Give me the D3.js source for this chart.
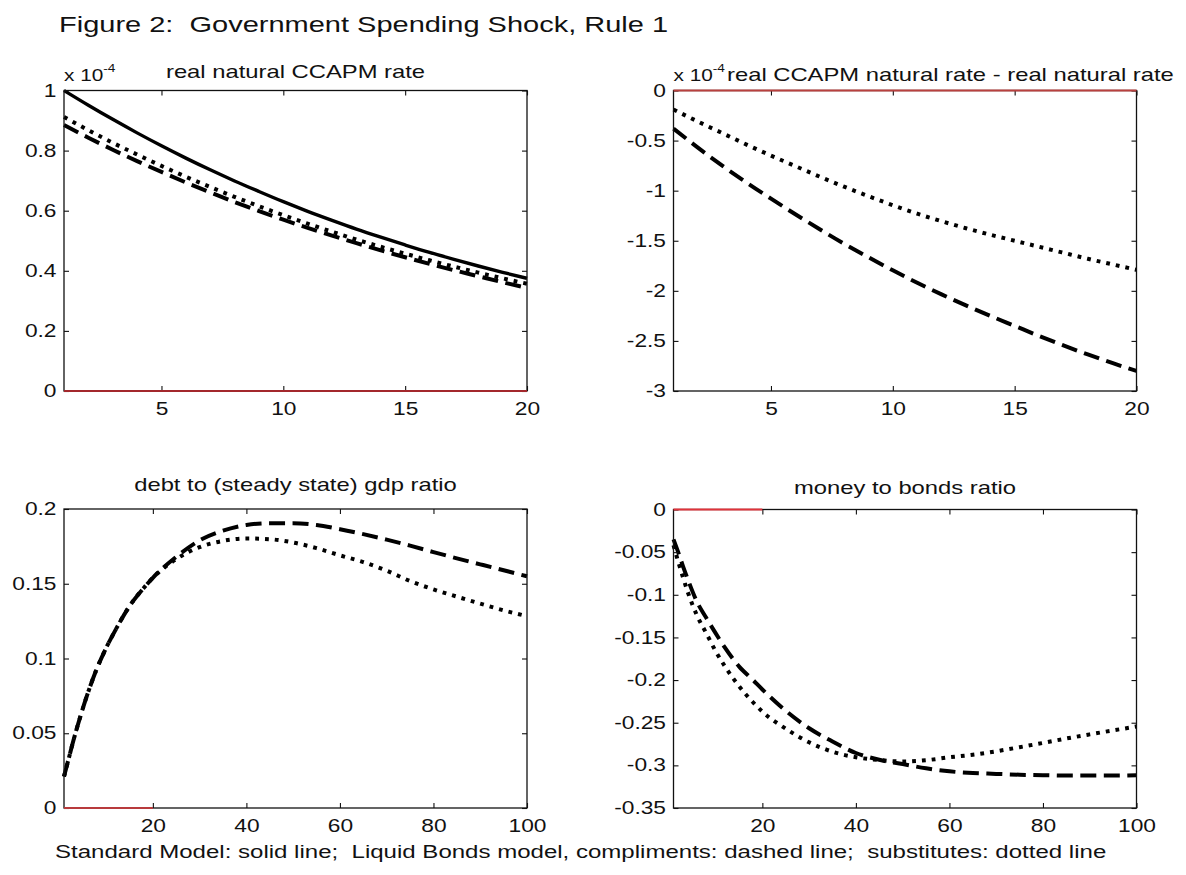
<!DOCTYPE html>
<html>
<head>
<meta charset="utf-8">
<script src="https://cdn.jsdelivr.net/npm/d3@7"></script>
<style>
  body { margin: 0; background: #fff; }
  text { font-family: "Liberation Sans", Arial, Helvetica, sans-serif; fill: #111; white-space: pre; }
</style>
</head>
<body>
<svg id="fig" width="1186" height="875"></svg>
<script>
// ---- periods ----
const periodsShort = [1, 2, 3, 4, 5, 6, 7, 8, 9, 10, 11, 12, 13, 14, 15, 16, 17, 18, 19, 20];
const periodsLong = [1, 2, 3, 4, 6, 8, 10, 12, 15, 18, 20, 25, 30, 35, 40, 45, 50, 55, 60, 65, 70, 75, 80, 85, 90, 95, 100];

// ---- real natural CCAPM rate (x 1e-4) ----
const ccapmStandard   = [1.000, 0.951, 0.904, 0.859, 0.816, 0.775, 0.736, 0.699, 0.664, 0.630, 0.598, 0.568, 0.539, 0.512, 0.486, 0.461, 0.438, 0.416, 0.395, 0.375];
const ccapmComplement = [0.885, 0.843, 0.803, 0.765, 0.729, 0.694, 0.661, 0.629, 0.599, 0.570, 0.543, 0.517, 0.492, 0.468, 0.445, 0.423, 0.402, 0.382, 0.362, 0.343];
const ccapmSubstitute = [0.912, 0.868, 0.826, 0.787, 0.749, 0.713, 0.679, 0.646, 0.615, 0.585, 0.557, 0.530, 0.504, 0.480, 0.457, 0.435, 0.414, 0.394, 0.375, 0.357];

// ---- real CCAPM natural rate - real natural rate (x 1e-4) ----
const gapComplement = [-0.38, -0.57, -0.75, -0.92, -1.08, -1.235, -1.385, -1.53, -1.665, -1.795, -1.92, -2.035, -2.145, -2.25, -2.35, -2.45, -2.545, -2.635, -2.72, -2.80];
const gapSubstitute = [-0.19, -0.31, -0.425, -0.54, -0.65, -0.755, -0.86, -0.96, -1.055, -1.145, -1.23, -1.305, -1.375, -1.44, -1.50, -1.56, -1.62, -1.68, -1.735, -1.79];

// ---- debt to (steady state) gdp ratio ----
const debtComplement = [0.021, 0.033, 0.045, 0.056, 0.076, 0.093, 0.107, 0.119, 0.135, 0.147, 0.154, 0.168, 0.179, 0.1855, 0.1893, 0.1905, 0.1905, 0.1893, 0.1865, 0.1832, 0.1795, 0.1755, 0.1712, 0.1670, 0.1630, 0.1590, 0.1550];
const debtSubstitute = [0.021, 0.033, 0.045, 0.056, 0.076, 0.093, 0.107, 0.119, 0.135, 0.147, 0.154, 0.1665, 0.1745, 0.1787, 0.1803, 0.1798, 0.1776, 0.1738, 0.1690, 0.1645, 0.1587, 0.1518, 0.1462, 0.1414, 0.1367, 0.1322, 0.1283];

// ---- money to bonds ratio ----
const moneyComplement = [-0.035, -0.050, -0.066, -0.081, -0.108, -0.127, -0.145, -0.162, -0.184, -0.200, -0.211, -0.236, -0.2565, -0.272, -0.2855, -0.2935, -0.2985, -0.3035, -0.307, -0.309, -0.310, -0.311, -0.3115, -0.312, -0.312, -0.312, -0.3115];
const moneySubstitute = [-0.042, -0.061, -0.079, -0.096, -0.124, -0.145, -0.166, -0.184, -0.207, -0.226, -0.237, -0.257, -0.273, -0.284, -0.2905, -0.2937, -0.2955, -0.2940, -0.2905, -0.2875, -0.2835, -0.2787, -0.2737, -0.2685, -0.2637, -0.2590, -0.2545];

// ---- standard model reference (zero response) ----
const refPeriodsFull = [1, 20];
const refPeriodsLong = [1, 20];
const refZero = [0, 0];

// ---- ticks ----
const ticksShortX = [5, 10, 15, 20];
const ticksLongX = [20, 40, 60, 80, 100];
const ticksRate = [0, 0.2, 0.4, 0.6, 0.8, 1];
const ticksRateLabels = ["0", "0.2", "0.4", "0.6", "0.8", "1"];
const ticksGap = [0, -0.5, -1, -1.5, -2, -2.5, -3];
const ticksGapLabels = ["0", "-0.5", "-1", "-1.5", "-2", "-2.5", "-3"];
const ticksDebt = [0, 0.05, 0.1, 0.15, 0.2];
const ticksDebtLabels = ["0", "0.05", "0.1", "0.15", "0.2"];
const ticksMoney = [0, -0.05, -0.1, -0.15, -0.2, -0.25, -0.3, -0.35];
const ticksMoneyLabels = ["0", "-0.05", "-0.1", "-0.15", "-0.2", "-0.25", "-0.3", "-0.35"];

// ---- text ----
const figureTitle = "Figure 2:  Government Spending Shock, Rule 1";
const footnote = "Standard Model: solid line;  Liquid Bonds model, compliments: dashed line;  substitutes: dotted line";

// ---- drawing ----
const svg = d3.select("#fig");
const SX = 1.3;           // horizontal stretch of the exported figure's lettering
const TICK_FONT = 17.5;

function stretchedText(parent, x, y, str, size, anchor) {
  return parent.append("text")
    .attr("transform", `translate(${x},${y}) scale(${SX},1)`)
    .attr("font-size", size)
    .attr("text-anchor", anchor || "start")
    .text(str);
}

const STYLE = {
  solid:  { width: 3.4, dash: null },
  dashed: { width: 4,   dash: "16,7.5" },
  dotted: { width: 4,   dash: "3.8,6" }
};

function zip(ts, vs) { return ts.map((t, i) => ({ t: t, v: vs[i] })); }

function panel(cfg) {
  const x = d3.scaleLinear().domain(cfg.xDomain).range([cfg.left, cfg.right]);
  const y = d3.scaleLinear().domain(cfg.yDomain).range([cfg.bottom, cfg.top]);
  const g = svg.append("g");

  // series
  const line = d3.line().x(d => x(d.t)).y(d => y(d.v)).curve(d3.curveMonotoneX);
  cfg.series.forEach(s => {
    const st = STYLE[s.style];
    g.append("path")
      .datum(zip(s.t, s.v))
      .attr("d", line)
      .attr("fill", "none")
      .attr("stroke", "#000")
      .attr("stroke-width", st.width)
      .attr("stroke-linecap", "butt")
      .attr("stroke-linejoin", "round")
      .attr("stroke-dasharray", st.dash);
  });

  // box
  g.append("rect")
    .attr("x", cfg.left).attr("y", cfg.top)
    .attr("width", cfg.right - cfg.left).attr("height", cfg.bottom - cfg.top)
    .attr("fill", "none").attr("stroke", "#111").attr("stroke-width", 1.3);

  // axes with inward ticks on all four sides
  const axB = d3.axisBottom(x).tickValues(cfg.xTicks).tickSizeInner(-5).tickSizeOuter(0).tickPadding(11.5)
    .tickFormat(d => String(d));
  const axT = d3.axisTop(x).tickValues(cfg.xTicks).tickSizeInner(-5).tickSizeOuter(0).tickFormat("");
  const axL = d3.axisLeft(y).tickValues(cfg.yTicks).tickSizeInner(-5).tickSizeOuter(0).tickPadding(7.5)
    .tickFormat((d, i) => cfg.yLabels[i]);
  const axR = d3.axisRight(y).tickValues(cfg.yTicks).tickSizeInner(-5).tickSizeOuter(0).tickFormat("");

  const gb = g.append("g").attr("transform", `translate(0,${cfg.bottom})`).call(axB);
  const gt = g.append("g").attr("transform", `translate(0,${cfg.top})`).call(axT);
  const gl = g.append("g").attr("transform", `translate(${cfg.left},0)`).call(axL);
  const gr = g.append("g").attr("transform", `translate(${cfg.right},0)`).call(axR);
  [gb, gt, gl, gr].forEach(a => {
    a.select(".domain").remove();
    a.selectAll(".tick line").attr("stroke", "#111").attr("stroke-width", 1.1);
    a.selectAll(".tick text").attr("font-size", TICK_FONT).attr("fill", "#111")
      .attr("font-family", "Liberation Sans, Arial, sans-serif");
  });
  gb.selectAll(".tick text").attr("transform", `scale(${SX},1)`);
  gl.selectAll(".tick text").attr("x", -7.5 / SX).attr("transform", `scale(${SX},1)`);

  // standard model reference line
  g.append("path")
    .datum(zip(cfg.ref.t, cfg.ref.v))
    .attr("d", d3.line().x(d => x(d.t)).y(d => y(d.v)))
    .attr("fill", "none")
    .attr("stroke", cfg.ref.color)
    .attr("stroke-width", 1.8);

  // titles
  if (cfg.exponent) {
    const t = stretchedText(svg, cfg.left, 80.5, "x 10", 16, "start");
    t.append("tspan").attr("font-size", 10.5).attr("dy", -9).text("-4");
  }
  stretchedText(svg, cfg.titleX, cfg.titleY, cfg.title, 18.3, cfg.titleAnchor);
}

// top-left
panel({
  left: 64, right: 527, top: 90.5, bottom: 391,
  xDomain: [1, 20], yDomain: [0, 1],
  xTicks: ticksShortX, yTicks: ticksRate, yLabels: ticksRateLabels,
  series: [
    { t: periodsShort, v: ccapmStandard, style: "solid" },
    { t: periodsShort, v: ccapmComplement, style: "dashed" },
    { t: periodsShort, v: ccapmSubstitute, style: "dotted" }
  ],
  ref: { t: refPeriodsFull, v: refZero, color: "#a3282c" },
  exponent: true,
  title: "real natural CCAPM rate", titleX: 295.5, titleY: 77.5, titleAnchor: "middle"
});

// top-right
panel({
  left: 673.5, right: 1136.5, top: 90.5, bottom: 391,
  xDomain: [1, 20], yDomain: [-3, 0],
  xTicks: ticksShortX, yTicks: ticksGap, yLabels: ticksGapLabels,
  series: [
    { t: periodsShort, v: gapComplement, style: "dashed" },
    { t: periodsShort, v: gapSubstitute, style: "dotted" }
  ],
  ref: { t: refPeriodsFull, v: refZero, color: "#b8403e" },
  exponent: true,
  title: "real CCAPM natural rate - real natural rate", titleX: 727, titleY: 80.5, titleAnchor: "start"
});

// bottom-left
panel({
  left: 64, right: 527, top: 509, bottom: 808,
  xDomain: [1, 100], yDomain: [0, 0.2],
  xTicks: ticksLongX, yTicks: ticksDebt, yLabels: ticksDebtLabels,
  series: [
    { t: periodsLong, v: debtComplement, style: "dashed" },
    { t: periodsLong, v: debtSubstitute, style: "dotted" }
  ],
  ref: { t: refPeriodsLong, v: refZero, color: "#b83a3c" },
  exponent: false,
  title: "debt to (steady state) gdp ratio", titleX: 295.5, titleY: 491, titleAnchor: "middle"
});

// bottom-right
panel({
  left: 673.5, right: 1136.5, top: 509.5, bottom: 808,
  xDomain: [1, 100], yDomain: [-0.35, 0],
  xTicks: ticksLongX, yTicks: ticksMoney, yLabels: ticksMoneyLabels,
  series: [
    { t: periodsLong, v: moneyComplement, style: "dashed" },
    { t: periodsLong, v: moneySubstitute, style: "dotted" }
  ],
  ref: { t: refPeriodsLong, v: refZero, color: "#e0323a" },
  exponent: false,
  title: "money to bonds ratio", titleX: 905, titleY: 494, titleAnchor: "middle"
});

// figure caption and footnote
stretchedText(svg, 59, 32, figureTitle, 22.3, "start");
stretchedText(svg, 55, 858, footnote, 18.5, "start");
</script>
</body>
</html>
